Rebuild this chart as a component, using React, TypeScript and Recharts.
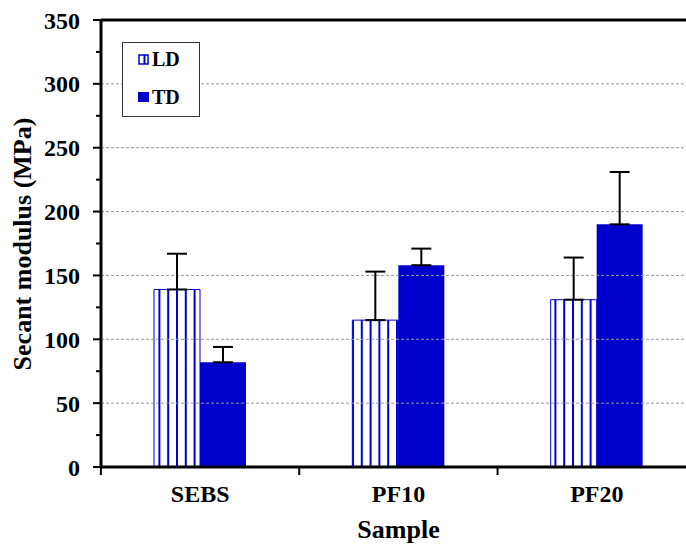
import { Bar, BarChart, ErrorBar, Label, Legend, ReferenceLine, XAxis, YAxis } from 'recharts';

const samples = ['SEBS', 'PF10', 'PF20'];
const ldValues = [139, 115, 131];
const ldErrors = [28, 38, 33];
const tdValues = [82, 158, 190];
const tdErrors = [12, 13, 41];
const yTicks = [0, 25, 50, 75, 100, 125, 150, 175, 200, 225, 250, 275, 300, 325, 350];
const gridValues = [50, 100, 150, 200, 250, 300];

const data = samples.map((name, i) => ({
  name,
  LD: ldValues[i],
  ldErr: [0, ldErrors[i]],
  TD: tdValues[i],
  tdErr: [0, tdErrors[i]],
}));

const BLUE = '#0000CC';
const FONT = '"Liberation Serif", "Times New Roman", serif';
const AXIS_X = 101;
const PLOT_W = 595.5;
const BAND = PLOT_W / samples.length;

const YTick = (props: any) => {
  const { y, payload } = props;
  const major = payload.value % 50 === 0;
  return (
    <g>
      <line x1={AXIS_X - (major ? 8 : 5)} x2={AXIS_X} y1={y} y2={y} stroke='#000' strokeWidth={2} />
      {major && (
        <text x={80} y={y + 8.5} textAnchor='end' fontFamily={FONT} fontWeight='bold' fontSize={24} fill='#000'>
          {payload.value}
        </text>
      )}
    </g>
  );
};

const XTick = (props: any) => {
  const { x, y, payload } = props;
  const left = x - BAND / 2;
  return (
    <g>
      <line x1={left} x2={left} y1={y - 8} y2={y + 0} stroke='#000' strokeWidth={2} />
      <text x={x} y={502} textAnchor='middle' fontFamily={FONT} fontWeight='bold' fontSize={24} fill='#000'>
        {payload.value}
      </text>
    </g>
  );
};

const YTitle = () => (
  <text
    x={22}
    y={244}
    transform='rotate(-90 22 244)'
    textAnchor='middle'
    dominantBaseline='central'
    fontFamily={FONT}
    fontWeight='bold'
    fontSize={26}
    fill='#000'
  >
    Secant modulus (MPa)
  </text>
);

const XTitle = () => (
  <text x={398.5} y={538} textAnchor='middle' fontFamily={FONT} fontWeight='bold' fontSize={26} fill='#000'>
    Sample
  </text>
);

const LegendBox = () => (
  <svg width={78} height={75} style={{ display: 'block' }}>
    <rect x={0.5} y={0.5} width={77} height={74} fill='#fff' stroke='#333' strokeWidth={1} />
    <rect x={17} y={13} width={9} height={9} fill='#fff' stroke={BLUE} strokeWidth={1.5} />
    <line x1={22.5} x2={22.5} y1={13} y2={22} stroke={BLUE} strokeWidth={2} />
    <text x={30} y={24} fontFamily={FONT} fontWeight='bold' fontSize={20} fill='#000'>
      LD
    </text>
    <rect x={16} y={50} width={11} height={10} fill={BLUE} />
    <text x={30} y={62} fontFamily={FONT} fontWeight='bold' fontSize={20} fill='#000'>
      TD
    </text>
  </svg>
);

const App = () => {
  return (
    <div style={{ position: 'absolute', left: 0, top: 0, width: 686, height: 548, overflow: 'hidden', background: '#fff' }}>
      <BarChart
        width={700}
        height={548}
        data={data}
        margin={{ top: 20, right: 4, bottom: 0, left: 0 }}
        barSize={46}
        barGap={0}
      >
        <defs>
          <pattern id='ldStripes' patternUnits='userSpaceOnUse' width={8.8} height={10}>
            <rect x={0} y={0} width={8.8} height={10} fill='#fff' />
            <rect x={0} y={0} width={2} height={10} fill={BLUE} />
          </pattern>
        </defs>
        {gridValues.map((v) => (
          <ReferenceLine key={v} y={v} stroke='#999' strokeDasharray='3 2' strokeWidth={1} />
        ))}
        <ReferenceLine y={350} stroke='#000' strokeWidth={3} />
        <XAxis
          dataKey='name'
          height={81}
          axisLine={{ stroke: '#000', strokeWidth: 3 }}
          tickLine={false}
          tick={<XTick />}
          interval={0}
        >
          <Label content={<XTitle />} />
        </XAxis>
        <YAxis
          width={AXIS_X}
          domain={[0, 350]}
          ticks={yTicks}
          interval={0}
          axisLine={{ stroke: '#000', strokeWidth: 3 }}
          tickLine={false}
          tick={<YTick />}
        >
          <Label content={<YTitle />} />
        </YAxis>
        <Legend
          layout='vertical'
          align='center'
          verticalAlign='middle'
          content={<LegendBox />}
          wrapperStyle={{ left: 122, top: 42, width: 78, height: 75 }}
        />
        <Bar dataKey='LD' fill='url(#ldStripes)' stroke={BLUE} strokeWidth={1} isAnimationActive={false}>
          <ErrorBar dataKey='ldErr' direction='y' width={10} stroke='#000' strokeWidth={2} />
        </Bar>
        <Bar dataKey='TD' fill={BLUE} isAnimationActive={false}>
          <ErrorBar dataKey='tdErr' direction='y' width={10} stroke='#000' strokeWidth={2} />
        </Bar>
      </BarChart>
    </div>
  );
};

export default App;
